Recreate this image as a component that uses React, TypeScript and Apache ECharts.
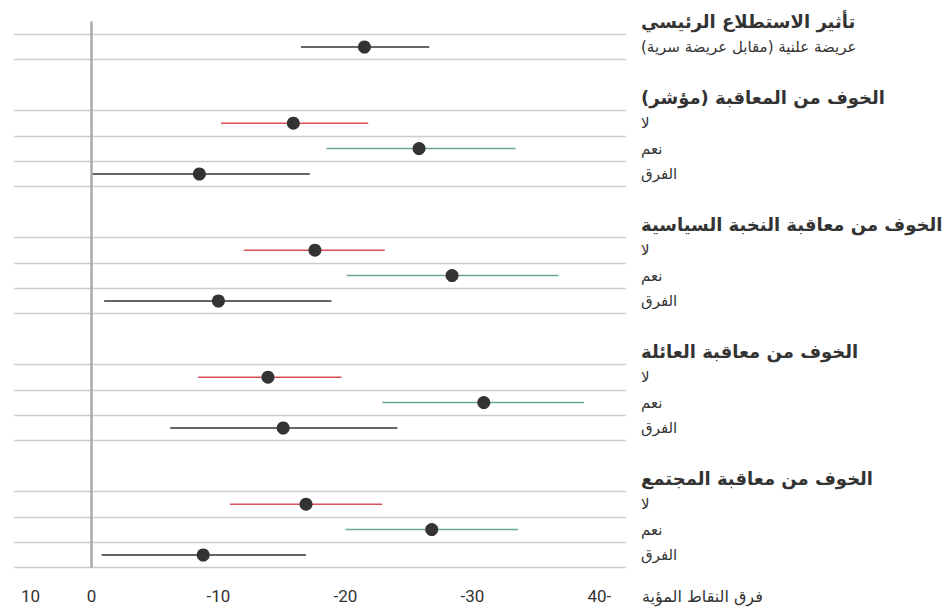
import React, { useEffect, useRef } from "react";
import * as echarts from "echarts";

// ---- data ----
const mainTitle = "تأثير الاستطلاع الرئيسي";
const mainLabel = "عريضة علنية (مقابل عريضة سرية)";
const groupTitles = [
  "الخوف من المعاقبة (مؤشر)",
  "الخوف من معاقبة النخبة السياسية",
  "الخوف من معاقبة العائلة",
  "الخوف من معاقبة المجتمع",
];
const subLabels = ["لا", "نعم", "الفرق"];
const subTypes = ["no", "yes", "diff"];

// estimates in the order: main, then each group (لا, نعم, الفرق)
const estimates = [-21.5, -15.9, -25.8, -8.5, -17.6, -28.4, -10.0, -13.9, -30.9, -15.1, -16.9, -26.8, -8.8];
const ciNear = [-16.5, -10.2, -18.5, 0.0, -12.0, -20.1, -1.0, -8.4, -22.9, -6.2, -10.9, -20.0, -0.8];
const ciFar = [-26.6, -21.8, -33.4, -17.2, -23.1, -36.8, -18.9, -19.7, -38.8, -24.1, -22.9, -33.6, -16.9];

const xTickValues = [4.8, 0, -10, -20, -30, -40];
const xTickLabels = ["10", "0", "-10", "-20", "-30", "\u200F-40"];
const xAxisTitle = "فرق النقاط المؤية";

const typeColors: Record<string, string> = {
  main: "#333333",
  no: "#dc4f55",
  yes: "#6aa796",
  diff: "#333333",
};

// ---- layout of rows (row index on the y value axis) ----
type Row = { y: number; est: number; lo: number; hi: number; type: string };
const rows: Row[] = [];
const labelRows: { y: number; text: string; header: boolean }[] = [];
labelRows.push({ y: -1, text: mainTitle, header: true });
labelRows.push({ y: 0, text: mainLabel, header: false });
rows.push({ y: 0, est: estimates[0], lo: ciNear[0], hi: ciFar[0], type: "main" });
groupTitles.forEach((t, g) => {
  const headerRow = 2 + g * 5;
  labelRows.push({ y: headerRow, text: t, header: true });
  subLabels.forEach((s, k) => {
    const idx = 1 + g * 3 + k;
    const y = headerRow + 1 + k;
    labelRows.push({ y, text: s, header: false });
    rows.push({ y, est: estimates[idx], lo: ciNear[idx], hi: ciFar[idx], type: subTypes[k] });
  });
});

const gridLineYs = Array.from(new Set(rows.flatMap((r) => [r.y - 0.5, r.y + 0.5]))).sort((a, b) => a - b);

const FONT = "'DejaVu Sans', sans-serif";

export default function App() {
  const ref = useRef<HTMLDivElement>(null);
  useEffect(() => {
    document.body.style.margin = "0";
    if (!ref.current) return;
    const chart = echarts.init(ref.current, undefined, { renderer: "svg" });
    const labelMap = new Map(labelRows.map((l) => [l.y, l]));
    chart.setOption({
      animation: false,
      backgroundColor: "#ffffff",
      title: {
        text: xAxisTitle,
        left: 642,
        top: 588,
        padding: 0,
        textStyle: { fontFamily: FONT, fontSize: 16, fontWeight: "normal", color: "#333333" },
      },
      grid: { left: 14, right: 323, top: 8.9, bottom: 608 - 567.7, containLabel: false },
      xAxis: {
        type: "value",
        inverse: true,
        min: -42.1,
        max: 6.1,
        splitLine: { show: false },
        axisLine: { show: false },
        axisTick: { show: false },
        axisLabel: {
          customValues: xTickValues,
          margin: 20,
          fontSize: 17,
          color: "#333333",
          fontFamily: "'Liberation Sans Narrow', 'Roboto', sans-serif",
          formatter: (v: number) => {
            const i = xTickValues.findIndex((t) => Math.abs(t - v) < 1e-6);
            return i >= 0 ? xTickLabels[i] : "";
          },
        },
      },
      yAxis: {
        type: "value",
        inverse: true,
        position: "right",
        min: -1.5,
        max: 20.5,
        splitLine: { show: false },
        axisLine: { show: false },
        axisTick: { show: false },
        axisLabel: {
          customValues: labelRows.map((l) => l.y),
          align: "left",
          margin: 15,
          formatter: (v: number) => {
            const l = labelMap.get(Math.round(v));
            if (!l) return "";
            return l.header ? `{h|${l.text}}` : `{s|${l.text}}`;
          },
          rich: {
            h: { fontFamily: FONT, fontSize: 18, fontWeight: "bold", color: "#333333", lineHeight: 21 },
            s: { fontFamily: FONT, fontSize: 15, color: "#333333", lineHeight: 18 },
          },
        },
      },
      series: [
        {
          type: "line",
          data: [],
          silent: true,
          markLine: {
            silent: true,
            symbol: ["none", "none"],
            label: { show: false },
            lineStyle: { color: "#cccccc", width: 1.3, type: "solid" },
            data: gridLineYs.map((y) => ({ yAxis: y })),
          },
        },
        {
          type: "line",
          data: [],
          silent: true,
          z: 3,
          markLine: {
            silent: true,
            symbol: ["none", "none"],
            label: { show: false },
            lineStyle: { color: "#aaaaaa", width: 2.5, type: "solid" },
            data: [[{ coord: [0, -1] }, { coord: [0, 20.5] }]],
          },
        },
        {
          type: "custom",
          z: 4,
          data: rows.map((r) => [r.lo, r.hi, r.y, r.type]),
          renderItem: (params: any, api: any) => {
            const p1 = api.coord([api.value(0), api.value(2)]);
            const p2 = api.coord([api.value(1), api.value(2)]);
            const t = rows[params.dataIndex].type;
            return {
              type: "line",
              shape: { x1: p1[0], y1: p1[1], x2: p2[0], y2: p2[1] },
              style: { stroke: typeColors[t], lineWidth: 1.5 },
            };
          },
        },
        {
          type: "scatter",
          z: 5,
          symbol: "circle",
          symbolSize: 13,
          itemStyle: { color: "#333333", opacity: 1 },
          data: rows.map((r) => [r.est, r.y]),
        },
      ],
    });
    return () => chart.dispose();
  }, []);
  return <div ref={ref} style={{ width: 949, height: 608 }} />;
}
